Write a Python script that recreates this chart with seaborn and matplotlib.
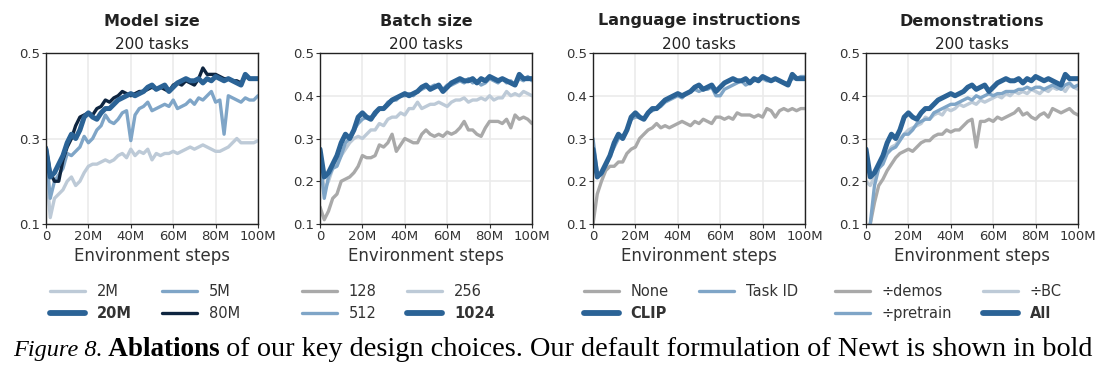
import numpy as np
import pandas as pd
import seaborn as sns
import matplotlib.pyplot as plt
from matplotlib.lines import Line2D

steps = np.arange(0, 101, 2)  # environment steps (M)

# default run (shown in bold in every panel)
default = [0.275, 0.21, 0.22, 0.24, 0.26, 0.29, 0.31, 0.30, 0.32, 0.35, 0.36, 0.35, 0.345, 0.36, 0.37, 0.37,
           0.38, 0.39, 0.395, 0.40, 0.405, 0.40, 0.405, 0.41, 0.42, 0.425, 0.415, 0.42, 0.425, 0.41, 0.42,
           0.43, 0.435, 0.44, 0.435, 0.435, 0.44, 0.43, 0.44, 0.435, 0.445, 0.44, 0.435, 0.44, 0.435, 0.43,
           0.425, 0.45, 0.44, 0.44, 0.44]

# model size
m2 = [0.24, 0.115, 0.16, 0.17, 0.18, 0.20, 0.21, 0.19, 0.20, 0.22, 0.235, 0.24, 0.24, 0.245, 0.25, 0.245,
      0.25, 0.26, 0.265, 0.255, 0.275, 0.26, 0.27, 0.265, 0.275, 0.25, 0.265, 0.26, 0.265, 0.265, 0.27,
      0.265, 0.27, 0.275, 0.28, 0.275, 0.28, 0.285, 0.28, 0.275, 0.27, 0.27, 0.275, 0.28, 0.29, 0.30,
      0.29, 0.29, 0.29, 0.29, 0.295]
m5 = [0.27, 0.16, 0.20, 0.215, 0.23, 0.265, 0.26, 0.27, 0.28, 0.305, 0.29, 0.30, 0.32, 0.33, 0.355, 0.34,
      0.335, 0.345, 0.36, 0.365, 0.295, 0.355, 0.37, 0.375, 0.385, 0.365, 0.37, 0.375, 0.38, 0.375, 0.39,
      0.37, 0.375, 0.38, 0.39, 0.38, 0.395, 0.39, 0.40, 0.41, 0.385, 0.39, 0.31, 0.40, 0.395, 0.39,
      0.385, 0.395, 0.39, 0.39, 0.40]
m80 = [0.28, 0.22, 0.20, 0.20, 0.25, 0.28, 0.30, 0.33, 0.35, 0.355, 0.36, 0.355, 0.37, 0.375, 0.39, 0.385,
       0.395, 0.40, 0.41, 0.405, 0.40, 0.405, 0.41, 0.41, 0.415, 0.42, 0.415, 0.42, 0.415, 0.41, 0.425,
       0.43, 0.425, 0.435, 0.43, 0.425, 0.44, 0.465, 0.45, 0.45, 0.45, 0.445, 0.44, 0.44, 0.435, 0.435,
       0.43, 0.445, 0.44, 0.44, 0.44]

# batch size
b128 = [0.14, 0.11, 0.13, 0.16, 0.17, 0.20, 0.205, 0.21, 0.22, 0.235, 0.26, 0.255, 0.255, 0.26, 0.285, 0.28,
        0.29, 0.31, 0.27, 0.285, 0.30, 0.295, 0.29, 0.29, 0.31, 0.32, 0.31, 0.305, 0.31, 0.305, 0.315,
        0.31, 0.315, 0.325, 0.34, 0.32, 0.32, 0.31, 0.305, 0.325, 0.34, 0.34, 0.34, 0.335, 0.345, 0.325,
        0.355, 0.345, 0.35, 0.345, 0.335]
b256 = [0.25, 0.18, 0.20, 0.23, 0.245, 0.26, 0.275, 0.29, 0.30, 0.305, 0.30, 0.31, 0.32, 0.32, 0.335, 0.33,
        0.345, 0.35, 0.35, 0.36, 0.355, 0.37, 0.37, 0.385, 0.37, 0.375, 0.38, 0.38, 0.385, 0.38, 0.375,
        0.385, 0.39, 0.39, 0.395, 0.385, 0.39, 0.39, 0.395, 0.39, 0.40, 0.39, 0.395, 0.395, 0.41, 0.40,
        0.405, 0.40, 0.41, 0.405, 0.40]
b512 = [0.25, 0.16, 0.21, 0.23, 0.235, 0.26, 0.29, 0.30, 0.32, 0.335, 0.345, 0.35, 0.35, 0.355, 0.37, 0.37,
        0.385, 0.39, 0.39, 0.40, 0.40, 0.405, 0.40, 0.41, 0.415, 0.42, 0.42, 0.425, 0.42, 0.415, 0.425,
        0.425, 0.43, 0.435, 0.43, 0.44, 0.43, 0.435, 0.425, 0.43, 0.44, 0.435, 0.43, 0.44, 0.43, 0.435,
        0.425, 0.44, 0.435, 0.445, 0.435]

# language instructions
l_none = [0.10, 0.17, 0.20, 0.225, 0.235, 0.235, 0.245, 0.245, 0.265, 0.275, 0.28, 0.30, 0.31, 0.32, 0.325,
          0.335, 0.325, 0.33, 0.325, 0.33, 0.335, 0.34, 0.335, 0.33, 0.34, 0.335, 0.345, 0.34, 0.335, 0.35,
          0.35, 0.345, 0.35, 0.345, 0.36, 0.355, 0.355, 0.355, 0.35, 0.355, 0.35, 0.37, 0.365, 0.35, 0.365,
          0.37, 0.365, 0.37, 0.365, 0.37, 0.37]
l_task = [0.30, 0.22, 0.215, 0.235, 0.26, 0.28, 0.30, 0.305, 0.32, 0.345, 0.35, 0.35, 0.345, 0.36, 0.365,
          0.37, 0.375, 0.385, 0.39, 0.395, 0.40, 0.395, 0.405, 0.41, 0.415, 0.41, 0.415, 0.415, 0.42, 0.40,
          0.40, 0.415, 0.42, 0.425, 0.43, 0.435, 0.425, 0.43, 0.435, 0.44, 0.44, 0.435, 0.435, 0.44, 0.435,
          0.43, 0.43, 0.44, 0.44, 0.445, 0.445]

# demonstrations
d_demos = [0.09, 0.10, 0.15, 0.19, 0.205, 0.225, 0.24, 0.255, 0.265, 0.27, 0.275, 0.27, 0.28, 0.29, 0.295,
           0.295, 0.305, 0.31, 0.31, 0.32, 0.315, 0.32, 0.32, 0.33, 0.34, 0.345, 0.28, 0.34, 0.34, 0.345,
           0.34, 0.35, 0.345, 0.35, 0.355, 0.36, 0.37, 0.355, 0.36, 0.35, 0.345, 0.355, 0.36, 0.35, 0.37,
           0.365, 0.36, 0.365, 0.37, 0.36, 0.355]
d_pre = [0.08, 0.10, 0.19, 0.23, 0.24, 0.265, 0.275, 0.28, 0.295, 0.31, 0.31, 0.32, 0.335, 0.34, 0.345,
         0.345, 0.36, 0.365, 0.37, 0.375, 0.38, 0.38, 0.385, 0.39, 0.395, 0.39, 0.40, 0.395, 0.40, 0.405,
         0.40, 0.405, 0.405, 0.41, 0.41, 0.41, 0.415, 0.415, 0.42, 0.415, 0.42, 0.42, 0.415, 0.42, 0.425,
         0.42, 0.415, 0.425, 0.43, 0.42, 0.425]
d_bc = [0.20, 0.19, 0.21, 0.23, 0.25, 0.265, 0.28, 0.285, 0.30, 0.31, 0.32, 0.325, 0.33, 0.335, 0.35, 0.345,
        0.355, 0.36, 0.355, 0.37, 0.365, 0.37, 0.38, 0.375, 0.38, 0.385, 0.38, 0.39, 0.385, 0.39, 0.395,
        0.40, 0.395, 0.405, 0.40, 0.41, 0.405, 0.41, 0.405, 0.415, 0.41, 0.405, 0.415, 0.41, 0.42, 0.415,
        0.42, 0.41, 0.425, 0.42, 0.415]

light = '#bdcad7'
mid = '#7fa5c7'
dark = '#2b6396'
navy = '#0e2540'
gray = '#a9a9a9'

# (label, values, colour, bold) in legend order, plus draw order
panels = [
    ("Model size", [("2M", m2, light, False), ("20M", default, dark, True),
                    ("5M", m5, mid, False), ("80M", m80, navy, False)], [0, 2, 3, 1], [0.1, 0.3, 0.5]),
    ("Batch size", [("128", b128, gray, False), ("512", b512, mid, False),
                    ("256", b256, light, False), ("1024", default, dark, True)], [0, 2, 1, 3],
     [0.1, 0.2, 0.3, 0.4, 0.5]),
    ("Language instructions", [("None", l_none, gray, False), ("CLIP", default, dark, True),
                               ("Task ID", l_task, mid, False)], [0, 2, 1], [0.1, 0.2, 0.3, 0.4, 0.5]),
    ("Demonstrations", [("÷demos", d_demos, gray, False), ("÷pretrain", d_pre, mid, False),
                        ("÷BC", d_bc, light, False), ("All", default, dark, True)], [0, 2, 1, 3],
     [0.1, 0.2, 0.3, 0.4, 0.5]),
]

sns.set_theme(style='ticks')
plt.rcParams['font.family'] = ['DejaVu Sans']

W, H = 1115, 369
fig = plt.figure(figsize=(W / 100, H / 100), dpi=100)
lefts = [46, 320, 593, 866]
leg_x = [50, 302, 584, 835]
LW, LWB = 2.4, 3.6

for i, (title, series, order, yt) in enumerate(panels):
    ax = fig.add_axes([lefts[i] / W, 1 - 224 / H, 212 / W, 171 / H])
    for j in order:
        lab, vals, col, bold = series[j]
        df = pd.DataFrame({'step': steps, 'score': vals})
        sns.lineplot(data=df, x='step', y='score', ax=ax, color=col,
                     linewidth=LWB if bold else LW, legend=False)
    ax.set_xlim(0, 100)
    ax.set_ylim(0.1, 0.5)
    ax.set_xticks([0, 20, 40, 60, 80, 100])
    ax.set_xticklabels(['0', '20M', '40M', '60M', '80M', '100M'], fontsize=9.5, color='#333333')
    ax.set_yticks(yt)
    ax.set_yticklabels([f"{v:.1f}" for v in yt], fontsize=9.5, color='#333333')
    ax.tick_params(length=3, width=0.8, pad=1.5, color='#333333')
    ax.grid(True, color='#ebebeb', linewidth=1.2)
    ax.set_axisbelow(True)
    for s in ax.spines.values():
        s.set_color('#222222')
        s.set_linewidth(1.0)
    ax.set_xlabel('Environment steps', fontsize=12, color='#333333', labelpad=3)
    ax.set_ylabel('')
    ax.set_title('200 tasks', fontsize=11, color='#222222', pad=3)
    ax.text(0.5, 1 + (53 - 21) / 171, title, transform=ax.transAxes, ha='center', va='center',
            fontsize=11.5, fontweight='bold', color='#222222')

    handles = [Line2D([], [], color=c, linewidth=LWB + 0.6 if b else LW) for _, _, c, b in series]
    labels = [s[0] for s in series]
    leg = fig.legend(handles, labels, loc='upper left', bbox_to_anchor=(leg_x[i] / W, 1 - 284 / H),
                     ncol=2, frameon=False, fontsize=10.5, handlelength=2.4, handletextpad=0.8,
                     columnspacing=2.1, borderpad=0, borderaxespad=0, labelspacing=0.5)
    for t, s in zip(leg.get_texts(), series):
        t.set_color('#333333')
        if s[3]:
            t.set_fontweight('bold')

# caption, drawn piece by piece
fig.canvas.draw()
r = fig.canvas.get_renderer()
x = 13 / W
pieces = [("Figure 8.", 'italic', 'normal', 17.5), (" Ablations", 'normal', 'bold', 19.5),
          (" of our key design choices. Our default formulation of Newt is shown in bold", 'normal', 'normal', 20.3)]
for txt, st, wt, fs in pieces:
    t = fig.text(x, 1 - 356 / H, txt, fontsize=fs, family=['Liberation Serif'], style=st,
                 fontweight=wt, color='black', va='baseline', ha='left')
    bb = t.get_window_extent(renderer=r)
    x = bb.x1 / W

fig.savefig('out.png', dpi=100)
